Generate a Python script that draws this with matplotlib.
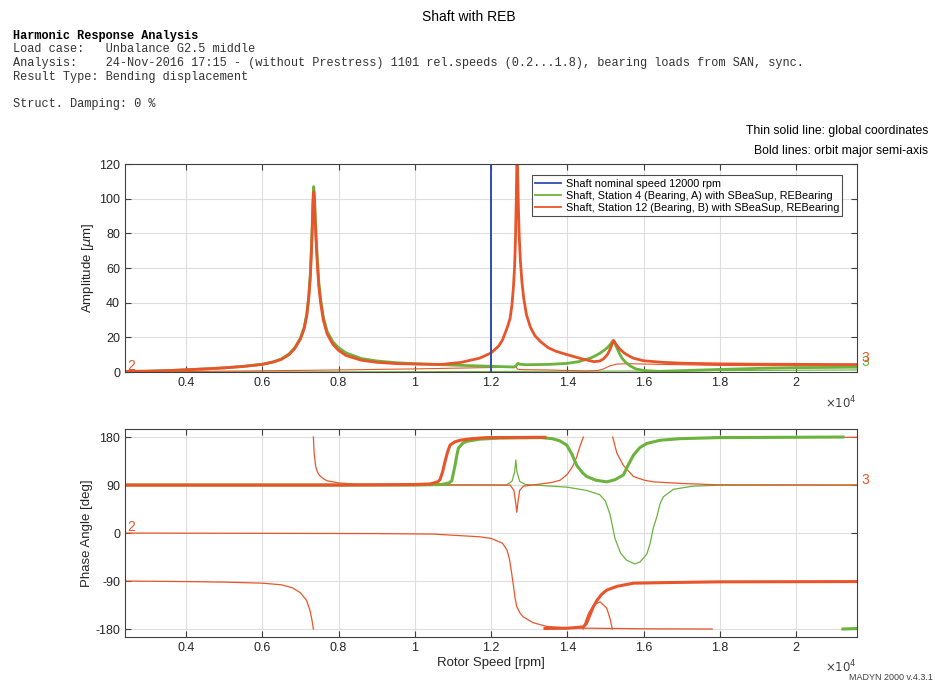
import numpy as np
import matplotlib.pyplot as plt
from matplotlib.lines import Line2D
from matplotlib.ticker import FuncFormatter

plt.rcParams['font.family'] = ['Liberation Sans', 'DejaVu Sans']
plt.rcParams['mathtext.fontset'] = 'dejavusans'
plt.rcParams['axes.unicode_minus'] = False

ORANGE = '#E9552A'
GREEN = '#6CB33E'
BLUE = '#2F4DB0'
AXCOL = '#404040'

speed_min, speed_max = 2400, 21600
nominal_speed = 12000
speed_ticks = [4000, 6000, 8000, 10000, 12000, 14000, 16000, 18000, 20000]
amp_ticks = [0, 20, 40, 60, 80, 100, 120]
phase_ticks = [-180, -90, 0, 90, 180]

legend_labels = ['Shaft nominal speed 12000 rpm',
                 'Shaft, Station 4 (Bearing, A) with SBeaSup, REBearing',
                 'Shaft, Station 12 (Bearing, B) with SBeaSup, REBearing']

header = ['Load case:   Unbalance G2.5 middle',
          'Analysis:    24-Nov-2016 17:15 - (without Prestress) 1101 rel.speeds (0.2...1.8), bearing loads from SAN, sync.',
          'Result Type: Bending displacement']

# ---- amplitude [um] over rotor speed [rpm] ----
amp_st12_bold = [(2400, 0.3), (3000, 0.5), (3500, 0.8), (4000, 1.3), (4500, 1.8), (5000, 2.4),
                 (5500, 3.2), (6000, 4.4), (6300, 5.8), (6500, 7.3), (6700, 10), (6850, 13.5),
                 (7000, 19), (7100, 25), (7170, 33), (7220, 43), (7260, 55), (7290, 70),
                 (7310, 82), (7330, 97), (7350, 104), (7370, 98), (7390, 86), (7410, 76),
                 (7440, 64), (7480, 50), (7530, 40), (7600, 30), (7700, 22), (7850, 16),
                 (8000, 12.5), (8200, 9.5), (8600, 6.8), (9000, 5.6), (9500, 4.9), (10000, 4.6),
                 (10700, 4.4), (11200, 5.5), (11700, 8), (12000, 11), (12200, 15), (12300, 18.5),
                 (12430, 26), (12500, 31), (12550, 39), (12590, 50), (12620, 62), (12640, 76),
                 (12660, 97), (12680, 126), (12700, 112), (12720, 93), (12740, 78), (12770, 64),
                 (12810, 52), (12860, 42), (12930, 33), (13030, 26), (13150, 21), (13300, 17.5),
                 (13500, 14), (13700, 12), (14000, 10), (14400, 7.5), (14700, 6), (14850, 6.3),
                 (14950, 7.6), (15050, 10), (15120, 13), (15170, 15.8), (15210, 18.2), (15250, 17),
                 (15300, 15.3), (15380, 13.2), (15480, 11.2), (15600, 9.5), (15735, 8), (16000, 6.5),
                 (16500, 5.6), (17000, 5.1), (18000, 4.7), (19000, 4.5), (21600, 4.3)]

amp_st4_bold = [(2400, 0.3), (3000, 0.5), (3500, 0.8), (4000, 1.3), (4500, 1.8), (5000, 2.4),
                (5500, 3.3), (6000, 4.5), (6300, 6), (6500, 7.6), (6700, 10.4), (6850, 14),
                (7000, 19.6), (7100, 26), (7170, 34), (7220, 44.5), (7260, 57), (7290, 72),
                (7310, 85), (7330, 100), (7350, 107), (7370, 101), (7390, 89), (7410, 79),
                (7440, 66.5), (7480, 52.5), (7530, 42), (7600, 32), (7700, 23.5), (7850, 17.5),
                (8000, 14), (8200, 11), (8600, 7.8), (9000, 6.4), (9500, 5.4), (10000, 4.8),
                (11000, 4), (12000, 3.3), (12600, 2.9), (12660, 3.6), (12700, 5), (12760, 4.5),
                (12900, 4.2), (13500, 4.4), (14000, 5), (14300, 6), (14600, 8), (14750, 9.5),
                (14850, 10.8), (14950, 12.3), (15050, 14), (15130, 16), (15180, 17.6),
                (15210, 18.2), (15250, 16.5), (15300, 14), (15360, 11), (15430, 8.2),
                (15520, 5.8), (15650, 3.5), (15800, 1.8), (16000, 0.9), (16400, 0.4),
                (17000, 0.8), (18000, 1.5), (19000, 2.1), (20000, 2.5), (21600, 2.8)]

amp_st12_thin = [(2400, 0.05), (4000, 0.3), (6000, 0.7), (8000, 1.2), (9000, 1.5), (10000, 1.8),
                 (11000, 2.2), (12000, 2.6), (12550, 2.9), (12650, 3.1), (12700, 1.6), (12800, 1.4),
                 (13500, 1.2), (14000, 0.9), (14500, 0.6), (14800, 0.9), (14950, 1.8), (15100, 3.4),
                 (15300, 4.6), (15600, 4.8), (16500, 4.4), (18000, 3.8), (21600, 3.5)]

amp_st4_thin = [(2400, 0.0), (8000, 0.1), (12000, 0.3), (14000, 0.5), (16000, 0.6), (21600, 1.2)]

# ---- phase angle [deg] over rotor speed [rpm], split at +-180 wraps ----
ph_st12_bold = [
    [(2400, 90), (8000, 90), (10000, 91), (10400, 92), (10600, 96), (10662, 100), (10730, 115),
     (10793, 134), (10860, 152), (10925, 165), (11050, 171), (11187, 174), (11500, 177),
     (11885, 179), (13415, 179.5)],
    [(13415, -179), (14000, -178.5), (14417, -176), (14500, -170), (14580, -156), (14684, -138),
     (14780, -126), (14900, -115), (15034, -107), (15300, -100), (15735, -94), (16958, -92.5),
     (18000, -91.5), (21600, -91)],
]

ph_st4_bold = [
    [(2400, 90), (10000, 90), (10700, 91), (10900, 94), (10970, 98), (11020, 115), (11056, 127),
     (11100, 145), (11143, 159), (11250, 168), (11361, 172), (11700, 176), (12200, 178),
     (13300, 179), (13600, 177), (13800, 173), (13985, 165), (14120, 148), (14247, 127),
     (14400, 113), (14510, 106), (14750, 99), (15035, 96), (15250, 100), (15472, 109),
     (15600, 128), (15735, 146), (15900, 160), (16085, 168), (16434, 174), (16958, 177),
     (18000, 179), (21230, 180)],
    [(21230, -180), (21600, -179)],
]

ph_st12_dir3 = [
    [(2400, -90), (4000, -91), (5000, -92), (6000, -94), (6500, -97), (6800, -103), (7000, -112),
     (7160, -126), (7250, -145), (7300, -162), (7340, -180)],
    [(7340, 180), (7360, 150), (7400, 125), (7450, 114), (7500, 108), (7600, 102), (7700, 98),
     (8000, 94), (8500, 91.5), (9000, 90.5), (12500, 90), (12600, 80), (12650, 55),
     (12675, 39), (12700, 55), (12750, 80), (12850, 88), (13200, 91), (13600, 95), (13810, 99),
     (14000, 110), (14140, 125), (14250, 143), (14315, 159), (14420, 180)],
    [(14420, -180), (14480, -165), (14560, -150), (14690, -135), (14860, -129), (15035, -141),
     (15120, -160), (15180, -180)],
    [(15190, 180), (15300, 150), (15470, 127), (15735, 106), (16025, 99), (16260, 96),
     (17000, 93), (17920, 90.5), (21600, 90)],
]

ph_st12_dir2 = [
    [(2400, 0), (9000, -1), (10500, -2), (11700, -7), (12000, -10), (12300, -19), (12420, -32),
     (12486, -50), (12540, -75), (12590, -100), (12630, -122), (12675, -138), (12760, -150),
     (12840, -157), (13100, -168), (13455, -175), (14000, -178), (16000, -179.5), (17800, -180)],
    [(17800, 180), (21600, 179.5)],
]

ph_st4_dir3 = [
    [(2400, 90), (12400, 90), (12550, 97), (12620, 115), (12650, 137), (12680, 115), (12750, 97),
     (12900, 91), (13150, 90), (14000, 86), (14500, 80), (14850, 72), (15000, 60), (15120, 35),
     (15250, -10), (15400, -38), (15560, -51), (15775, -58), (15908, -54), (16083, -40),
     (16170, -20), (16258, 10), (16347, 30), (16433, 55), (16520, 68), (16782, 82),
     (17300, 88), (17920, 89.5), (21600, 90)],
]


def xy(pts):
    a = np.array(pts, dtype=float)
    return a[:, 0], a[:, 1]


def style_axes(ax, yticks):
    ax.set_xlim(speed_min, speed_max)
    ax.set_xticks(speed_ticks)
    ax.xaxis.set_major_formatter(FuncFormatter(lambda v, p: f'{v / 1e4:g}'))
    ax.set_yticks(yticks)
    ax.tick_params(direction='in', top=True, right=True, length=4, width=0.8,
                   color=AXCOL, labelsize=9, labelcolor='#262626')
    ax.grid(True, color='#dedede', lw=0.8)
    ax.set_axisbelow(True)
    for s in ax.spines.values():
        s.set_color(AXCOL)
        s.set_linewidth(0.8)


fig = plt.figure(figsize=(9.38, 6.83), dpi=100)
ax1 = fig.add_axes([0.1333, 0.4553, 0.7804, 0.3045])
ax2 = fig.add_axes([0.1333, 0.0673, 0.7804, 0.3045])

# amplitude plot
ax1.plot(*xy(amp_st4_thin), color=GREEN, lw=0.8)
ax1.plot(*xy(amp_st12_thin), color=ORANGE, lw=0.8)
ax1.plot(*xy(amp_st4_bold), color=GREEN, lw=2.0)
ax1.plot(*xy(amp_st12_bold), color=ORANGE, lw=2.0)
ax1.plot([nominal_speed, nominal_speed], [0, 120], color=BLUE, lw=1.4)
ax1.set_ylim(0, 120)
style_axes(ax1, amp_ticks)
ax1.set_ylabel(r'Amplitude [$\mu$m]', fontsize=9.5, color='#262626', labelpad=2)

handles = [Line2D([], [], color=c, lw=1.3) for c in (BLUE, GREEN, ORANGE)]
leg = ax1.legend(handles, legend_labels, loc='upper right', bbox_to_anchor=(0.98, 0.945),
                 borderaxespad=0, fontsize=7.8, frameon=True, fancybox=False,
                 handlelength=2.4, handletextpad=0.4, borderpad=0.3, labelspacing=0.2)
leg.get_frame().set_edgecolor('#202020')
leg.get_frame().set_linewidth(0.8)

ax1.text(2450, 3.6, '2', color=ORANGE, fontsize=10, va='center', ha='left')
ax1.annotate('3', xy=(speed_max, 6.0), xytext=(3, 0), textcoords='offset points',
             color=GREEN, fontsize=10, va='center', ha='left', annotation_clip=False)
ax1.annotate('3', xy=(speed_max, 8.2), xytext=(3, 0), textcoords='offset points',
             color=ORANGE, fontsize=10, va='center', ha='left', annotation_clip=False)

# phase plot
for seg in ph_st4_dir3:
    ax2.plot(*xy(seg), color=GREEN, lw=0.9)
for seg in ph_st12_dir2:
    ax2.plot(*xy(seg), color=ORANGE, lw=0.9)
for seg in ph_st12_dir3:
    ax2.plot(*xy(seg), color=ORANGE, lw=0.9)
for seg in ph_st4_bold:
    ax2.plot(*xy(seg), color=GREEN, lw=2.2)
for seg in ph_st12_bold:
    ax2.plot(*xy(seg), color=ORANGE, lw=2.2)
ax2.set_ylim(-195, 195)
style_axes(ax2, phase_ticks)
ax2.set_ylabel('Phase Angle [deg]', fontsize=9.5, color='#262626', labelpad=2)
ax2.set_xlabel('Rotor Speed [rpm]', fontsize=9.5, color='#262626', labelpad=2)

ax2.text(2450, 12, '2', color=ORANGE, fontsize=10, va='center', ha='left')
ax2.annotate('3', xy=(speed_max, 99), xytext=(3, 0), textcoords='offset points',
             color=ORANGE, fontsize=10, va='center', ha='left', annotation_clip=False)

# exponent markers below the speed axes
for ypix in (403, 667):
    fig.text(857 / 938, 1 - ypix / 683, r'$\times10^4$', fontsize=8.5, color='#404040',
             ha='right', va='center')

# title block
fig.text(0.5, 1 - 17 / 683, 'Shaft with REB', ha='center', va='center', fontsize=10)
mono = 'Liberation Mono'
fig.text(13 / 938, 1 - 36 / 683, 'Harmonic Response Analysis', family=mono,
         fontweight='bold', fontsize=8.6, va='center')
for i, line in enumerate(header):
    fig.text(13 / 938, 1 - (49 + 14 * i) / 683, line, family=mono, fontsize=8.6,
             va='center', color='#333333')
fig.text(13 / 938, 1 - 104 / 683, 'Struct. Damping: 0 %', family=mono, fontsize=8.6,
         va='center', color='#333333')

fig.text(928 / 938, 1 - 131 / 683, 'Thin solid line: global coordinates',
         ha='right', va='center', fontsize=8.8)
fig.text(928 / 938, 1 - 151 / 683, 'Bold lines: orbit major semi-axis',
         ha='right', va='center', fontsize=8.8)
fig.text(933 / 938, 1 - 677 / 683, 'MADYN 2000 v.4.3.1', ha='right', va='center',
         fontsize=6.5, color='#404040')

fig.savefig('out.png', dpi=100)
